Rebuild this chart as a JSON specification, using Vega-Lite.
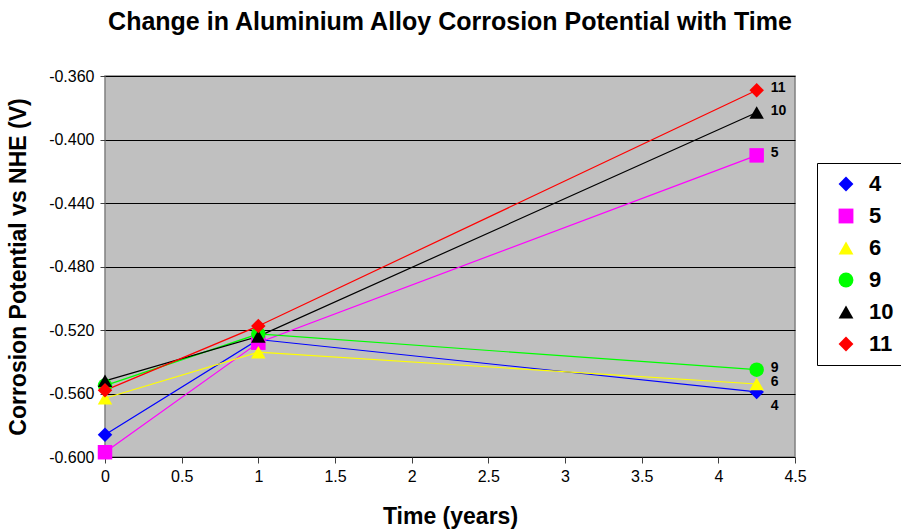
{
  "$schema": "https://vega.github.io/schema/vega-lite/v6.json",
  "width": 690,
  "height": 381,
  "autosize": {"type": "none"},
  "padding": {"left": 105, "top": 76, "right": 106, "bottom": 73},
  "background": "white",
  "config": {
    "font": "Liberation Sans",
    "view": {"fill": "#C0C0C0", "stroke": "#808080", "strokeWidth": 1.5},
    "axis": {"labelFont": "Liberation Sans", "titleFont": "Liberation Sans", "labelColor": "black", "titleColor": "black", "domainColor": "#404040", "tickColor": "#404040", "labelFontSize": 16, "titleFontSize": 23, "titleFontWeight": "bold"}
  },
  "title": {"text": "Change in Aluminium Alloy Corrosion Potential with Time", "fontSize": 25, "fontWeight": "bold", "font": "Liberation Sans", "color": "black", "offset": 33, "anchor": "middle"},
  "data": {"values": [
    {"series": "4", "time": 0, "potential": -0.586},
    {"series": "4", "time": 1, "potential": -0.526},
    {"series": "4", "time": 4.25, "potential": -0.559},
    {"series": "5", "time": 0, "potential": -0.597},
    {"series": "5", "time": 1, "potential": -0.528},
    {"series": "5", "time": 4.25, "potential": -0.410},
    {"series": "6", "time": 0, "potential": -0.563},
    {"series": "6", "time": 1, "potential": -0.534},
    {"series": "6", "time": 4.25, "potential": -0.554},
    {"series": "9", "time": 0, "potential": -0.555},
    {"series": "9", "time": 1, "potential": -0.5225},
    {"series": "9", "time": 4.25, "potential": -0.545},
    {"series": "10", "time": 0, "potential": -0.552},
    {"series": "10", "time": 1, "potential": -0.524},
    {"series": "10", "time": 4.25, "potential": -0.383},
    {"series": "11", "time": 0, "potential": -0.558},
    {"series": "11", "time": 1, "potential": -0.5175},
    {"series": "11", "time": 4.25, "potential": -0.369}
  ]},
  "encoding": {
    "x": {"field": "time", "type": "quantitative", "title": "Time (years)",
      "scale": {"domain": [0, 4.5], "nice": false},
      "axis": {"values": [0, 0.5, 1, 1.5, 2, 2.5, 3, 3.5, 4, 4.5], "format": "~g", "labelFlush": false, "grid": false, "tickSize": 6, "labelPadding": 5, "titlePadding": 21, "domain": false}},
    "y": {"field": "potential", "type": "quantitative", "title": "Corrosion Potential vs NHE (V)",
      "scale": {"domain": [-0.6, -0.36], "nice": false, "zero": false},
      "axis": {"values": [-0.6, -0.56, -0.52, -0.48, -0.44, -0.4, -0.36], "labelExpr": "replace(format(datum.value, '.3f'), '\u2212', '-')", "labelFlush": false, "grid": true, "gridColor": "black", "gridOpacity": 1, "gridWidth": 1, "tickSize": 5, "labelPadding": 6, "titlePadding": 18, "domain": false}}
  },
  "layer": [
    {
      "mark": {"type": "line", "strokeWidth": 1.2},
      "encoding": {
        "color": {"field": "series", "type": "nominal", "title": null,
          "scale": {"domain": ["4", "5", "6", "9", "10", "11"], "range": ["#0000FF", "#FF00FF", "#FFFF00", "#00FF00", "#000000", "#FF0000"]}},
        "detail": {"field": "series"}
      }
    },
    {
      "mark": {"type": "point", "filled": true, "opacity": 1, "size": 210},
      "encoding": {
        "color": {"field": "series", "type": "nominal", "title": null,
          "scale": {"domain": ["4", "5", "6", "9", "10", "11"], "range": ["#0000FF", "#FF00FF", "#FFFF00", "#00FF00", "#000000", "#FF0000"]},
          "legend": {"orient": "none", "legendX": 712, "legendY": 87, "direction": "vertical", "strokeColor": "black", "fillColor": "white", "padding": 10, "labelFontSize": 22, "labelFontWeight": "bold", "labelFont": "Liberation Sans", "labelColor": "black", "symbolSize": 220, "rowPadding": 10, "labelOffset": 12, "symbolOffset": 8, "symbolStrokeWidth": 0, "symbolOpacity": 1}},
        "shape": {"field": "series", "type": "nominal", "title": null,
          "scale": {"domain": ["4", "5", "6", "9", "10", "11"], "range": ["diamond", "square", "triangle-up", "circle", "triangle-up", "diamond"]}}
      }
    },
    {
      "transform": [{"filter": "datum.time == 4.25 && datum.series != '4'"}],
      "mark": {"type": "text", "align": "left", "baseline": "middle", "dx": 14, "dy": -2, "fontSize": 14, "fontWeight": "bold", "font": "Liberation Sans", "color": "black"},
      "encoding": {"text": {"field": "series"}}
    },
    {
      "transform": [{"filter": "datum.time == 4.25 && datum.series == '4'"}],
      "mark": {"type": "text", "align": "left", "baseline": "middle", "dx": 14, "dy": 14, "fontSize": 14, "fontWeight": "bold", "font": "Liberation Sans", "color": "black"},
      "encoding": {"text": {"field": "series"}}
    }
  ]
}
